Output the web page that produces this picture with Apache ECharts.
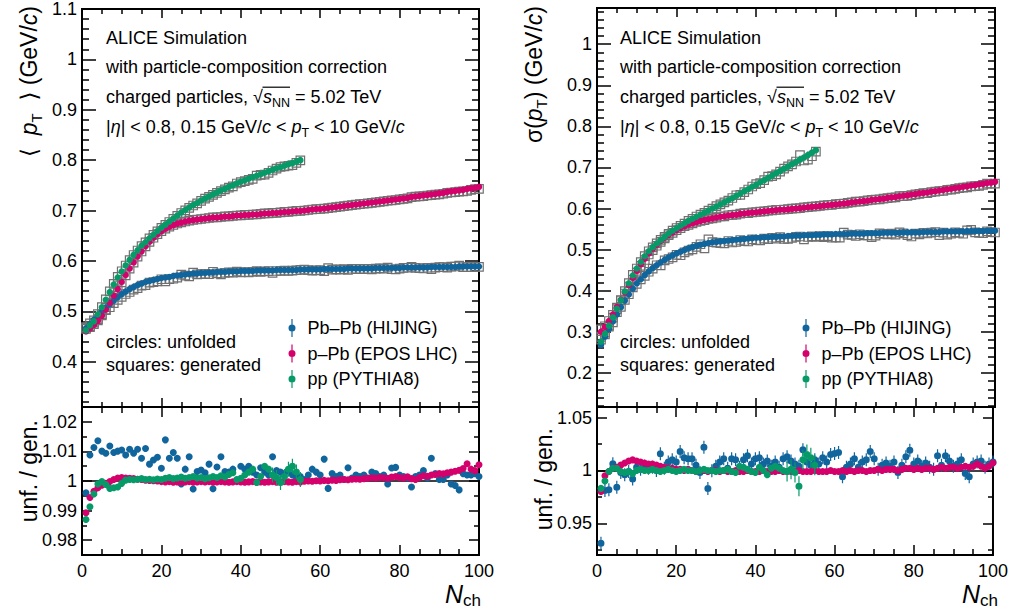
<!DOCTYPE html>
<html><head><meta charset="utf-8">
<script src="https://cdn.jsdelivr.net/npm/echarts@6/dist/echarts.min.js"></script>
<style>html,body{margin:0;padding:0;background:#fff}#c{width:1011px;height:615px}</style>
</head><body><div id="c"></div>
<script>
// ---------------- data ----------------
const nch = Array.from({length: 100}, (_, i) => i + 1);   // N_ch bins 1..100
const seriesNames = ['Pb\u2013Pb (HIJING)', 'p\u2013Pb (EPOS LHC)', 'pp (PYTHIA8)'];

// <pT> unfolded
const meanPtPbPb = [0.466,0.474,0.483,0.491,0.499,0.507,0.514,0.521,0.528,0.534,
0.539,0.544,0.548,0.552,0.555,0.558,0.560,0.562,0.564,0.566,
0.567,0.568,0.570,0.571,0.572,0.573,0.574,0.575,0.575,0.576,
0.576,0.577,0.577,0.578,0.578,0.578,0.579,0.579,0.579,0.580,
0.580,0.580,0.580,0.581,0.581,0.581,0.581,0.581,0.582,0.582,
0.582,0.582,0.582,0.582,0.583,0.583,0.583,0.583,0.583,0.583,
0.584,0.584,0.584,0.584,0.584,0.584,0.585,0.585,0.585,0.585,
0.585,0.585,0.585,0.586,0.586,0.586,0.586,0.586,0.586,0.586,
0.587,0.587,0.587,0.587,0.587,0.587,0.587,0.588,0.588,0.588,
0.588,0.588,0.588,0.588,0.589,0.589,0.589,0.589,0.589,0.589];
const meanPtPPb = [0.460,0.466,0.473,0.481,0.491,0.503,0.517,0.531,0.544,0.558,
0.572,0.585,0.597,0.609,0.619,0.629,0.638,0.646,0.653,0.659,
0.664,0.668,0.671,0.674,0.676,0.678,0.680,0.681,0.682,0.683,
0.684,0.685,0.686,0.686,0.687,0.688,0.688,0.689,0.690,0.690,
0.691,0.691,0.692,0.692,0.693,0.694,0.694,0.695,0.695,0.696,
0.697,0.697,0.698,0.699,0.699,0.700,0.701,0.702,0.703,0.703,
0.704,0.705,0.706,0.707,0.708,0.709,0.710,0.711,0.712,0.713,
0.714,0.715,0.716,0.717,0.718,0.719,0.720,0.721,0.722,0.723,
0.724,0.725,0.727,0.728,0.729,0.730,0.731,0.732,0.733,0.734,
0.735,0.737,0.738,0.739,0.740,0.741,0.743,0.744,0.745,0.747];
const meanPtPP = [0.462,0.472,0.480,0.494,0.508,0.523,0.538,0.553,0.567,0.579,
0.591,0.602,0.612,0.621,0.630,0.637,0.645,0.652,0.659,0.666,
0.672,0.678,0.684,0.690,0.696,0.701,0.706,0.711,0.715,0.720,
0.724,0.728,0.732,0.736,0.740,0.743,0.747,0.750,0.754,0.757,
0.760,0.763,0.766,0.769,0.772,0.775,0.778,0.781,0.784,0.786,
0.789,0.792,0.794,0.797,0.800];

// <pT> ratio unfolded / generated
const ratioMeanPbPb = [0.996,1.0088,1.0113,1.0136,1.0101,1.0094,1.0118,1.0096,1.0101,1.0105,
1.0088,1.0107,1.0094,1.0107,1.0077,1.011,1.0057,1.0071,1.008,1.0043,
1.0139,1.0077,1.0096,1.0077,0.999,1.004,1.0082,0.9973,1.0032,1.0037,
1.0028,1.0057,0.9974,1.0047,1.0082,1.0032,1.003,1.004,1.0003,1.005,
1.004,1.005,1.003,1.002,1.0045,1.003,1.002,1.0082,1.0035,1.003,
1.0025,1.0035,1.002,1.001,1.0015,1.0005,1.002,1.004,1.003,1.002,
1.0074,0.9975,1.0025,1.0015,1.002,1.0005,1.0045,1.001,1.002,1.0015,
1.002,1.001,1.003,1.0025,1.0015,1.002,0.999,1.0044,1.0046,1.002,
1.0015,1.001,0.998,1.0015,1.002,1.0035,1.001,1.0077,1.0025,1.0005,
1.0005,1.002,0.999,0.9985,0.997,1.0025,1.002,1.002,1.0025,1.0015];
const ratioMeanPPb = [0.9893,0.9944,0.9965,0.9977,0.9986,0.9992,0.9998,1.0005,1.0010,1.0012,
1.0010,1.0009,1.0008,1.0006,1.0005,1.0003,1.0002,1.0001,1.0000,0.9998,
0.9997,0.9998,0.9996,0.9997,0.9996,0.9997,0.9998,0.9996,0.9997,0.9998,
0.9997,0.9998,0.9996,0.9997,0.9998,0.9997,0.9996,0.9997,0.9998,0.9997,
0.9996,0.9997,0.9998,0.9996,0.9997,0.9996,0.9997,0.9998,0.9996,0.9997,
0.9998,0.9997,0.9996,0.9998,0.9997,0.9999,1.0000,0.9999,1.0001,1.0000,
1.0002,1.0001,1.0003,1.0002,1.0004,1.0005,1.0004,1.0006,1.0007,1.0006,
1.0008,1.0009,1.0011,1.0010,1.0012,1.0011,1.0009,1.0013,1.0015,1.0012,
1.0010,1.0014,1.0008,1.0005,1.0012,1.0018,1.0016,1.0020,1.0022,1.0025,
1.0024,1.0028,1.0030,1.0033,1.0036,1.0042,1.0058,1.0040,1.0035,1.0055];
const ratioMeanPP = [0.987,0.9913,0.9956,0.999,0.9998,0.9988,0.9975,0.9977,0.998,0.9992,
1.0003,1.0005,1.0004,1.0006,1.0008,1.0005,1.0006,1.0004,1.0007,1.0005,
1.0009,1.0012,1.0008,1.001,1.0013,1.0009,1.0012,1.0015,1.001,1.0012,
1.0008,1.0011,1.0015,1.0012,1.0018,1.0014,1.0022,1.0028,1.0005,1.0009,
1.002,1.003,1.004,0.9995,1.0015,1.005,1.004,1.002,1.0012,0.9995,
1.0015,1.004,1.005,1.003,1.0005];

// sigma(pT) unfolded
const sigmaPbPb = [0.268,0.288,0.307,0.325,0.342,0.360,0.376,0.391,0.405,0.418,
0.428,0.438,0.447,0.455,0.462,0.469,0.475,0.481,0.486,0.491,
0.495,0.499,0.503,0.506,0.509,0.512,0.514,0.516,0.518,0.519,
0.520,0.521,0.522,0.523,0.524,0.525,0.526,0.527,0.528,0.529,
0.529,0.530,0.530,0.531,0.531,0.532,0.532,0.533,0.533,0.534,
0.534,0.535,0.535,0.535,0.536,0.536,0.537,0.537,0.537,0.538,
0.538,0.538,0.538,0.539,0.539,0.539,0.539,0.540,0.540,0.540,
0.540,0.541,0.541,0.541,0.541,0.541,0.542,0.542,0.542,0.542,
0.542,0.543,0.543,0.543,0.543,0.543,0.544,0.544,0.544,0.544,
0.544,0.544,0.545,0.545,0.545,0.545,0.545,0.546,0.546,0.546];
const sigmaPPb = [0.300,0.312,0.326,0.342,0.360,0.378,0.396,0.414,0.431,0.448,
0.464,0.478,0.491,0.502,0.512,0.521,0.529,0.536,0.542,0.548,
0.553,0.557,0.561,0.564,0.567,0.570,0.572,0.574,0.576,0.578,
0.580,0.581,0.583,0.584,0.585,0.587,0.588,0.589,0.590,0.591,
0.592,0.593,0.594,0.595,0.596,0.597,0.597,0.598,0.599,0.600,
0.601,0.602,0.603,0.604,0.605,0.606,0.607,0.608,0.609,0.610,
0.611,0.612,0.613,0.615,0.616,0.617,0.618,0.619,0.621,0.622,
0.623,0.624,0.626,0.627,0.628,0.630,0.631,0.632,0.634,0.635,
0.637,0.638,0.639,0.641,0.642,0.644,0.645,0.647,0.648,0.650,
0.651,0.653,0.654,0.656,0.657,0.659,0.660,0.662,0.663,0.665];
const sigmaPP = [0.276,0.295,0.315,0.335,0.356,0.377,0.398,0.418,0.437,0.454,
0.470,0.484,0.496,0.506,0.515,0.523,0.531,0.539,0.546,0.552,
0.558,0.564,0.570,0.575,0.580,0.585,0.590,0.595,0.600,0.605,
0.610,0.615,0.620,0.625,0.631,0.636,0.642,0.647,0.653,0.658,
0.664,0.669,0.675,0.680,0.686,0.691,0.697,0.702,0.708,0.713,
0.719,0.724,0.730,0.736,0.742];

// sigma(pT) ratio unfolded / generated
const ratioSigmaPbPb = [0.931,0.981,0.9818,1.0063,0.984,0.998,0.996,0.999,0.992,1.003,
1.001,1.004,1.002,1.003,1.000,1.0158,1.002,1.008,1.010,1.008,
1.018,1.012,1.011,1.011,1.005,0.998,1.022,0.983,0.9998,1.004,
1.008,1.011,1.002,1.011,1.010,1.003,1.010,1.014,1.006,1.011,
1.012,1.006,1.009,1.004,1.008,1.003,1.011,1.013,1.009,1.006,
1.004,1.0195,1.008,1.005,1.010,1.006,1.012,1.008,1.015,1.016,
1.017,0.994,1.003,1.006,1.011,1.003,1.008,1.010,1.018,1.011,
1.001,1.005,1.007,1.004,1.008,0.998,1.005,1.013,1.019,1.006,
1.009,1.004,1.007,1.003,1.001,1.014,1.005,1.014,1.009,1.004,
1.006,1.010,0.997,0.994,1.006,1.008,1.009,1.003,1.006,1.008];
const ratioSigmaPPb = [0.980,0.995,0.999,1.002,1.003,1.005,1.007,1.009,1.010,1.009,
1.008,1.007,1.006,1.006,1.005,1.004,1.003,1.002,1.002,1.001,
1.001,1.000,1.001,1.000,0.999,1.000,1.000,0.999,1.000,1.000,
0.999,1.000,0.999,0.999,1.000,0.999,0.999,1.000,0.999,0.999,
0.999,1.000,0.999,0.999,0.999,1.000,0.999,0.999,0.999,0.999,
1.000,0.999,0.999,0.999,1.000,0.999,0.999,0.999,1.000,0.999,
0.999,1.000,0.999,1.000,0.999,1.000,1.000,0.999,1.000,1.000,
1.001,1.000,1.001,1.001,1.001,1.000,1.001,1.002,1.002,1.001,
1.002,1.001,1.002,1.002,1.001,1.002,1.003,1.002,1.003,1.003,
1.002,1.003,1.004,1.003,1.004,1.006,1.004,1.002,1.004,1.007];
const ratioSigmaPP = [0.983,0.990,0.999,1.002,1.002,0.999,0.998,0.999,0.997,1.000,
1.001,1.000,1.000,1.001,1.000,0.999,1.000,1.001,1.000,0.999,
1.000,1.001,1.000,1.000,0.999,1.000,1.001,1.000,1.000,0.999,
1.000,1.000,1.001,0.999,0.998,1.004,1.003,1.001,0.999,0.998,
1.003,1.000,0.996,1.002,1.004,1.002,1.000,0.999,1.001,0.998,
0.985,1.010,1.015,1.012,1.005];

// tick values
const meanMajors = [0.4,0.5,0.6,0.7,0.8,0.9,1.0,1.1];
const sigmaMajors = [0.2,0.3,0.4,0.5,0.6,0.7,0.8,0.9,1.0];
const ratioMeanMajors = [0.98,0.99,1.0,1.01,1.02];
const ratioMeanMinors = [0.985,0.995,1.005,1.015];
const ratioSigmaMajors = [0.95,1.0,1.05];
const ratioSigmaMinors = [0.925,0.975,1.025];

// ---------------- style ----------------
const FONT = '"Liberation Sans", Arial, Helvetica, sans-serif';
const COLORS = ['#10659c', '#d4006c', '#079a69'];
const GRAY = '#707070';

function minorsOf(lo, hi) { const a = []; for (let k = lo; k <= hi; k++) if (k % 5) a.push(+(k * 0.02).toFixed(2)); return a; }
const meanMinors = minorsOf(16, 54);
const sigmaMinors = minorsOf(6, 54);

const fmt = v => String(parseFloat((+v).toFixed(3)));
const pts = vals => vals.map((v, i) => [nch[i], v]);
const genPts = (unf, r) => unf.map((v, i) => [nch[i], v / r[i]]);

function barSym(h) {
  const c = h / 2;
  return 'path://M2.9,0H4.1V' + h + 'H2.9Z M0,' + c + 'A3.5,3.5 0 1 1 7,' + c + 'A3.5,3.5 0 1 1 0,' + c + 'Z';
}

const grids = [
  {left: 82, top: 8, width: 397, height: 399},
  {left: 82, top: 407, width: 397, height: 148},
  {left: 597, top: 8, width: 398, height: 399},
  {left: 597, top: 407, width: 398, height: 148}
].map(g => Object.assign(g, {show: true, borderColor: '#000', borderWidth: 2, backgroundColor: 'transparent', containLabel: false}));

const tickLine = {color: '#000', width: 1.5};
function xAxesFor(g, showLabels, majLen, minLen) {
  const base = {type: 'value', gridIndex: g, min: 0, max: 100, interval: 20,
    axisLine: {show: false, onZero: false}, splitLine: {show: false}};
  const ax = pos => Object.assign({}, base, {position: pos,
    axisTick: {show: true, inside: true, length: majLen, lineStyle: tickLine},
    minorTick: {show: true, splitNumber: 4, length: minLen, lineStyle: tickLine},
    axisLabel: {show: showLabels && pos === 'bottom', fontSize: 18, fontFamily: FONT, color: '#000', margin: 7, formatter: fmt}});
  return [ax('bottom'), ax('top')];
}
function yAxesFor(g, min, max, majors, minors, majLen, minLen) {
  const base = {type: 'value', gridIndex: g, min: min, max: max,
    axisLine: {show: false, onZero: false}, splitLine: {show: false}};
  const ax = (pos, vals, len, lab) => Object.assign({}, base, {position: pos,
    axisTick: {show: true, inside: true, length: len, customValues: vals, lineStyle: tickLine},
    axisLabel: lab ? {show: true, customValues: vals, fontSize: 18, fontFamily: FONT, color: '#000', margin: 5, formatter: fmt} : {show: false}});
  return [ax('left', majors, majLen, true), ax('right', majors, majLen, false),
          ax('left', minors, minLen, false), ax('right', minors, minLen, false)];
}

const xAxis = [].concat(xAxesFor(0, false, 9, 5), xAxesFor(1, true, 10, 6), xAxesFor(2, false, 9, 5), xAxesFor(3, true, 10, 6));
const yAxis = [].concat(
  yAxesFor(0, 0.31, 1.1, meanMajors, meanMinors, 14, 7),
  yAxesFor(1, 0.975, 1.025, ratioMeanMajors, ratioMeanMinors, 10, 5),
  yAxesFor(2, 0.117, 1.088, sigmaMajors, sigmaMinors, 14, 7),
  yAxesFor(3, 0.92, 1.06, ratioSigmaMajors, ratioSigmaMinors, 10, 5));

const series = [];
const noEmph = {disabled: true};
function addUpper(g, unfArr, ratioArr) {
  unfArr.forEach((unf, k) => series.push({type: 'scatter', name: 'gen' + g + k, xAxisIndex: 2 * g, yAxisIndex: 4 * g,
    data: genPts(unf, ratioArr[k]), symbol: 'rect', symbolSize: 8.5, silent: true, emphasis: noEmph,
    itemStyle: {color: 'rgba(0,0,0,0)', borderColor: GRAY, borderWidth: 1.2, opacity: 1}, z: 2}));
  unfArr.forEach((unf, k) => series.push({type: 'scatter', name: seriesNames[k], xAxisIndex: 2 * g, yAxisIndex: 4 * g,
    data: pts(unf), symbol: 'circle', symbolSize: 6.5, silent: true, emphasis: noEmph,
    itemStyle: {color: COLORS[k], opacity: 1}, z: 3 + k}));
}
function addRatio(g, ratioArr, symFns) {
  ratioArr.forEach((r, k) => {
    const s = {type: 'scatter', name: seriesNames[k], xAxisIndex: 2 * g, yAxisIndex: 4 * g,
      data: pts(r), silent: true, emphasis: noEmph, itemStyle: {color: COLORS[k], opacity: 1}, z: 3 + k,
      symbol: symFns[k].symbol, symbolSize: symFns[k].size};
    if (k === 0) s.markLine = {silent: true, symbol: 'none', label: {show: false}, animation: false,
      lineStyle: {color: '#000', width: 1.5, type: 'solid', opacity: 1}, data: [{yAxis: 1}], z: 1};
    series.push(s);
  });
}
addUpper(0, [meanPtPbPb, meanPtPPb, meanPtPP], [ratioMeanPbPb, ratioMeanPPb, ratioMeanPP]);
addUpper(2, [sigmaPbPb, sigmaPPb, sigmaPP], [ratioSigmaPbPb, ratioSigmaPPb, ratioSigmaPP]);
const dot = {symbol: 'circle', size: 7};
addRatio(1, [ratioMeanPbPb, ratioMeanPPb, ratioMeanPP], [dot, dot,
  {symbol: (v, p) => p.dataIndex >= 47 ? barSym(15) : 'circle', size: (v, p) => p.dataIndex >= 47 ? [7, 15] : 7}]);
addRatio(3, [ratioSigmaPbPb, ratioSigmaPPb, ratioSigmaPP], [
  {symbol: barSym(13), size: [7, 13]}, dot,
  {symbol: (v, p) => p.dataIndex >= 47 ? barSym(20) : 'circle', size: (v, p) => p.dataIndex >= 47 ? [7, 20] : 7}]);

const legendIcon = barSym(18);
const legendBase = {orient: 'vertical', top: 319, itemWidth: 7, itemHeight: 18, itemGap: 7.5, padding: 0,
  selectedMode: false, data: seriesNames.map(n => ({name: n, icon: legendIcon})),
  textStyle: {fontSize: 18, fontFamily: FONT, color: '#000', lineHeight: 18, padding: [0, 0, 0, 7]}};

// ---------------- texts ----------------
const base18 = {fontSize: 18, fontFamily: FONT, fill: '#000'};
const rich = {
  t: Object.assign({}, base18, {lineHeight: 24, verticalAlign: 'middle'}),
  it: Object.assign({}, base18, {fontStyle: 'italic', lineHeight: 24, verticalAlign: 'middle'}),
  sub: {fontSize: 12.5, fontFamily: FONT, fill: '#000', lineHeight: 13, verticalAlign: 'bottom'},
  sq: Object.assign({}, base18, {lineHeight: 24, verticalAlign: 'middle'})
};
const titleRich = {
  t: {fontSize: 23, fontFamily: FONT + ', "DejaVu Sans"', fill: '#000', lineHeight: 30, verticalAlign: 'middle'},
  it: {fontSize: 23, fontFamily: FONT, fontStyle: 'italic', fill: '#000', lineHeight: 30, verticalAlign: 'middle'},
  sub: {fontSize: 15, fontFamily: FONT, fill: '#000', lineHeight: 16, verticalAlign: 'bottom'}
};
function txt(x, y, text, opts) {
  opts = opts || {};
  return {type: 'text', x: x, y: y, rotation: opts.rot || 0, silent: true, z: 50,
    style: {text: text, rich: opts.rich || rich, fontSize: 18, fontFamily: FONT, fill: '#000',
      align: opts.align || 'left', textAlign: opts.align || 'left',
      verticalAlign: 'middle', textVerticalAlign: 'middle'}};
}
function panelTexts(x0) {
  return [
    txt(x0, 38, '{t|ALICE Simulation}'),
    txt(x0, 67, '{t|with particle-composition correction}'),
    txt(x0, 97, '{t|charged particles, }{sq|\u221A}{it|s}{sub|NN}{t| = 5.02 TeV}'),
    txt(x0, 127, '{t||}{it|\u03B7}{t|| < 0.8, 0.15 GeV/}{it|c}{t| < }{it|p}{sub|T}{t| < 10 GeV/}{it|c}'),
    txt(x0, 342, '{t|circles: unfolded}'),
    txt(x0, 365, '{t|squares: generated}'),
    {type: 'line', silent: true, z: 50, shape: {x1: x0 + 156.5, y1: 87.2, x2: x0 + 184, y2: 87.2}, style: {stroke: '#000', lineWidth: 1.2}}
  ];
}
const nchRich = {
  n: {fontSize: 25, fontFamily: FONT, fontStyle: 'italic', fill: '#000', lineHeight: 30, verticalAlign: 'middle'},
  s: {fontSize: 17, fontFamily: FONT, fill: '#000', lineHeight: 17, verticalAlign: 'bottom'}};
const graphics = [].concat(
  panelTexts(106), panelTexts(620),
  [
    txt(29, 6, '{t|\u27E8  }{it|p}{sub|T}{t|  \u27E9 (GeV/}{it|c}{t|)}', {rot: Math.PI / 2, align: 'right', rich: titleRich}),
    txt(534, 6, '{t|\u03C3(}{it|p}{sub|T}{t|) (GeV/}{it|c}{t|)}', {rot: Math.PI / 2, align: 'right', rich: titleRich}),
    txt(29, 420, '{t|unf. / gen.}', {rot: Math.PI / 2, align: 'right', rich: titleRich}),
    txt(544, 428, '{t|unf. / gen.}', {rot: Math.PI / 2, align: 'right', rich: titleRich}),
    txt(481, 594, '{n|N}{s|ch}', {align: 'right', rich: nchRich}),
    txt(998, 594, '{n|N}{s|ch}', {align: 'right', rich: nchRich})
  ]);

const chart = echarts.init(document.getElementById('c'), null, {renderer: 'svg', width: 1011, height: 615});
chart.setOption({
  animation: false,
  backgroundColor: '#fff',
  textStyle: {fontFamily: FONT},
  grid: grids,
  xAxis: xAxis,
  yAxis: yAxis,
  legend: [Object.assign({}, legendBase, {left: 288.5}), Object.assign({}, legendBase, {left: 802.5})],
  series: series,
  graphic: {elements: graphics}
});
</script>
</body></html>
